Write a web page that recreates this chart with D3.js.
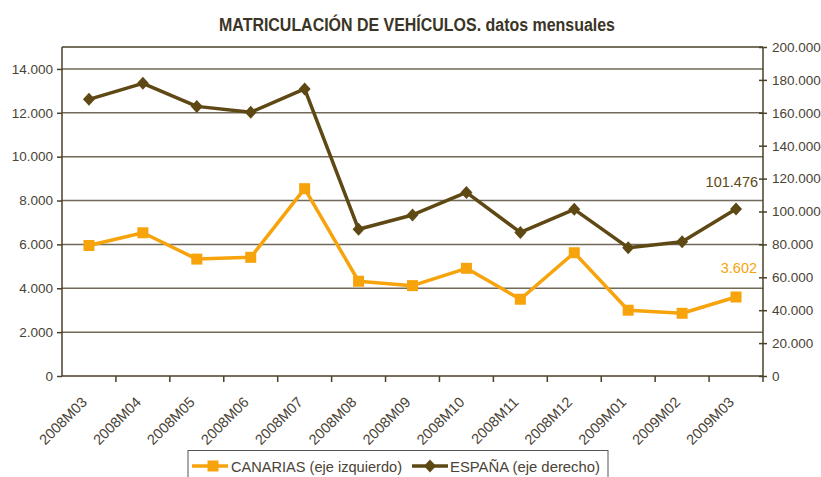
<!DOCTYPE html>
<html>
<head>
<meta charset="utf-8">
<script src="https://cdn.jsdelivr.net/npm/d3@7"></script>
<style>
  body { margin: 0; background: #fff; }
  svg { display: block; font-family: "Liberation Sans", Arial, sans-serif; }
</style>
</head>
<body>
<div id="chart"></div>
<script>
// data
const months = ['2008M03', '2008M04', '2008M05', '2008M06', '2008M07', '2008M08', '2008M09',
                '2008M10', '2008M11', '2008M12', '2009M01', '2009M02', '2009M03'];
const canarias = [5950, 6530, 5330, 5410, 8540, 4320, 4120, 4910, 3500, 5620, 3000, 2860, 3602];
const espana = [168200, 177900, 163900, 160300, 174500, 89200, 97900, 111600, 87300, 101300, 78000, 81600, 101476];
const leftTicks = [0, 2000, 4000, 6000, 8000, 10000, 12000, 14000];
const rightTicks = [0, 20000, 40000, 60000, 80000, 100000, 120000, 140000, 160000, 180000, 200000];

const width = 821, height = 477;
const plotLeft = 62, plotRight = 763, plotTop = 47, plotBottom = 376;

const axisColor = '#4b4028';
const textColor = '#4a4336';
const orange = '#f7a30c';
const brown = '#5e4814';

const es = d3.formatLocale({ decimal: ',', thousands: '.', grouping: [3], currency: ['', '€'] });
const fmt = es.format(',d');

const svg = d3.select('#chart').append('svg')
    .attr('width', width)
    .attr('height', height);

const x = d3.scaleBand().domain(months).range([plotLeft, plotRight]);
const yL = d3.scaleLinear().domain([0, 15000]).range([plotBottom, plotTop]);
const yR = d3.scaleLinear().domain([0, 200000]).range([plotBottom, plotTop]);

// title (glyphs look condensed in the original, so squeeze to its width)
svg.append('text')
    .attr('x', 219).attr('y', 31)
    .attr('font-size', 17.5).attr('font-weight', 'bold')
    .attr('fill', '#3a3526')
    .attr('textLength', 396).attr('lengthAdjust', 'spacingAndGlyphs')
    .text('MATRICULACIÓN DE VEHÍCULOS. datos mensuales');

// gridlines on the left axis ticks
svg.append('g').selectAll('line')
    .data(leftTicks.filter(d => d > 0))
    .enter().append('line')
    .attr('x1', plotLeft).attr('x2', plotRight)
    .attr('y1', d => yL(d)).attr('y2', d => yL(d))
    .attr('stroke', '#726a58').attr('stroke-width', 1.5);

// top border of plot
svg.append('line')
    .attr('x1', plotLeft).attr('x2', plotRight)
    .attr('y1', plotTop).attr('y2', plotTop)
    .attr('stroke', axisColor).attr('stroke-width', 1.5);

// left axis
const gL = svg.append('g')
    .attr('transform', `translate(${plotLeft},0)`)
    .call(d3.axisLeft(yL).tickValues(leftTicks).tickFormat(fmt).tickSize(5).tickPadding(4));
gL.select('.domain').attr('stroke', axisColor).attr('stroke-width', 1.5).attr('d', `M0,${plotTop}V${plotBottom}`);
gL.selectAll('.tick line').attr('stroke', axisColor).attr('stroke-width', 1.5);
gL.selectAll('.tick text').attr('fill', textColor).attr('font-size', 13.5)
    .attr('font-family', '"Liberation Sans", Arial, sans-serif');

// right axis
const gR = svg.append('g')
    .attr('transform', `translate(${plotRight},0)`)
    .call(d3.axisRight(yR).tickValues(rightTicks).tickFormat(fmt).tickSize(0).tickPadding(9));
gR.select('.domain').attr('stroke', axisColor).attr('stroke-width', 1.5).attr('d', `M0,${plotTop}V${plotBottom}`);
gR.selectAll('.tick line').attr('x1', -4).attr('x2', 4).attr('stroke', axisColor).attr('stroke-width', 1.5);
gR.selectAll('.tick text').attr('fill', textColor).attr('font-size', 13.5)
    .attr('font-family', '"Liberation Sans", Arial, sans-serif');

// bottom axis: ticks between categories
const gB = svg.append('g');
gB.append('line')
    .attr('x1', plotLeft).attr('x2', plotRight)
    .attr('y1', plotBottom).attr('y2', plotBottom)
    .attr('stroke', axisColor).attr('stroke-width', 1.5);
gB.selectAll('line.tk')
    .data(months.slice(1).concat(['end']))
    .enter().append('line')
    .attr('class', 'tk')
    .attr('x1', (d, i) => plotLeft + x.step() * (i + 1))
    .attr('x2', (d, i) => plotLeft + x.step() * (i + 1))
    .attr('y1', plotBottom).attr('y2', plotBottom + 6)
    .attr('stroke', axisColor).attr('stroke-width', 1.5);
gB.selectAll('text')
    .data(months)
    .enter().append('text')
    .attr('transform', d => `translate(${x(d) + x.bandwidth() / 2 - 1},${plotBottom + 27}) rotate(-45)`)
    .attr('text-anchor', 'end')
    .attr('font-size', 14.5)
    .attr('fill', textColor)
    .text(d => d);

// lines
const cx = d => x(d) + x.bandwidth() / 2;

svg.append('path')
    .datum(espana)
    .attr('fill', 'none').attr('stroke', brown).attr('stroke-width', 3.5)
    .attr('stroke-linejoin', 'round')
    .attr('d', d3.line().x((d, i) => cx(months[i])).y(d => yR(d)));

svg.append('g').selectAll('path')
    .data(espana)
    .enter().append('path')
    .attr('transform', (d, i) => `translate(${cx(months[i])},${yR(d)})`)
    .attr('d', 'M0,-6.5L6,0L0,6.5L-6,0Z')
    .attr('fill', brown);

svg.append('path')
    .datum(canarias)
    .attr('fill', 'none').attr('stroke', orange).attr('stroke-width', 3.5)
    .attr('stroke-linejoin', 'round')
    .attr('d', d3.line().x((d, i) => cx(months[i])).y(d => yL(d)));

svg.append('g').selectAll('rect')
    .data(canarias)
    .enter().append('rect')
    .attr('x', (d, i) => cx(months[i]) - 5.5)
    .attr('y', d => yL(d) - 5.5)
    .attr('width', 11).attr('height', 11)
    .attr('fill', orange);

// end labels
const last = months.length - 1;
svg.append('text')
    .attr('x', cx(months[last]) + 22).attr('y', yR(espana[last]) - 22)
    .attr('text-anchor', 'end').attr('font-size', 14.5)
    .attr('fill', brown)
    .text(fmt(espana[last]));
svg.append('text')
    .attr('x', cx(months[last]) + 21).attr('y', yL(canarias[last]) - 24)
    .attr('text-anchor', 'end').attr('font-size', 14.5)
    .attr('fill', orange)
    .text(fmt(canarias[last]));

// legend
const lg = svg.append('g');
lg.append('rect')
    .attr('x', 188).attr('y', 450.5).attr('width', 420).attr('height', 40)
    .attr('fill', '#fff').attr('stroke', '#555').attr('stroke-width', 1);
lg.append('line').attr('x1', 192).attr('x2', 228).attr('y1', 466).attr('y2', 466)
    .attr('stroke', orange).attr('stroke-width', 3.5);
lg.append('rect').attr('x', 207.5).attr('y', 460.5).attr('width', 11).attr('height', 11).attr('fill', orange);
lg.append('text').attr('x', 231).attr('y', 471.5).attr('font-size', 15.5).attr('fill', textColor)
    .attr('textLength', 171).attr('lengthAdjust', 'spacingAndGlyphs')
    .text('CANARIAS (eje izquierdo)');
lg.append('line').attr('x1', 412).attr('x2', 448).attr('y1', 466).attr('y2', 466)
    .attr('stroke', brown).attr('stroke-width', 3.5);
lg.append('path').attr('transform', 'translate(430,466)').attr('d', 'M0,-6.5L6,0L0,6.5L-6,0Z').attr('fill', brown);
lg.append('text').attr('x', 450).attr('y', 471.5).attr('font-size', 15.5).attr('fill', textColor)
    .attr('textLength', 150).attr('lengthAdjust', 'spacingAndGlyphs')
    .text('ESPAÑA (eje derecho)');
</script>
</body>
</html>
